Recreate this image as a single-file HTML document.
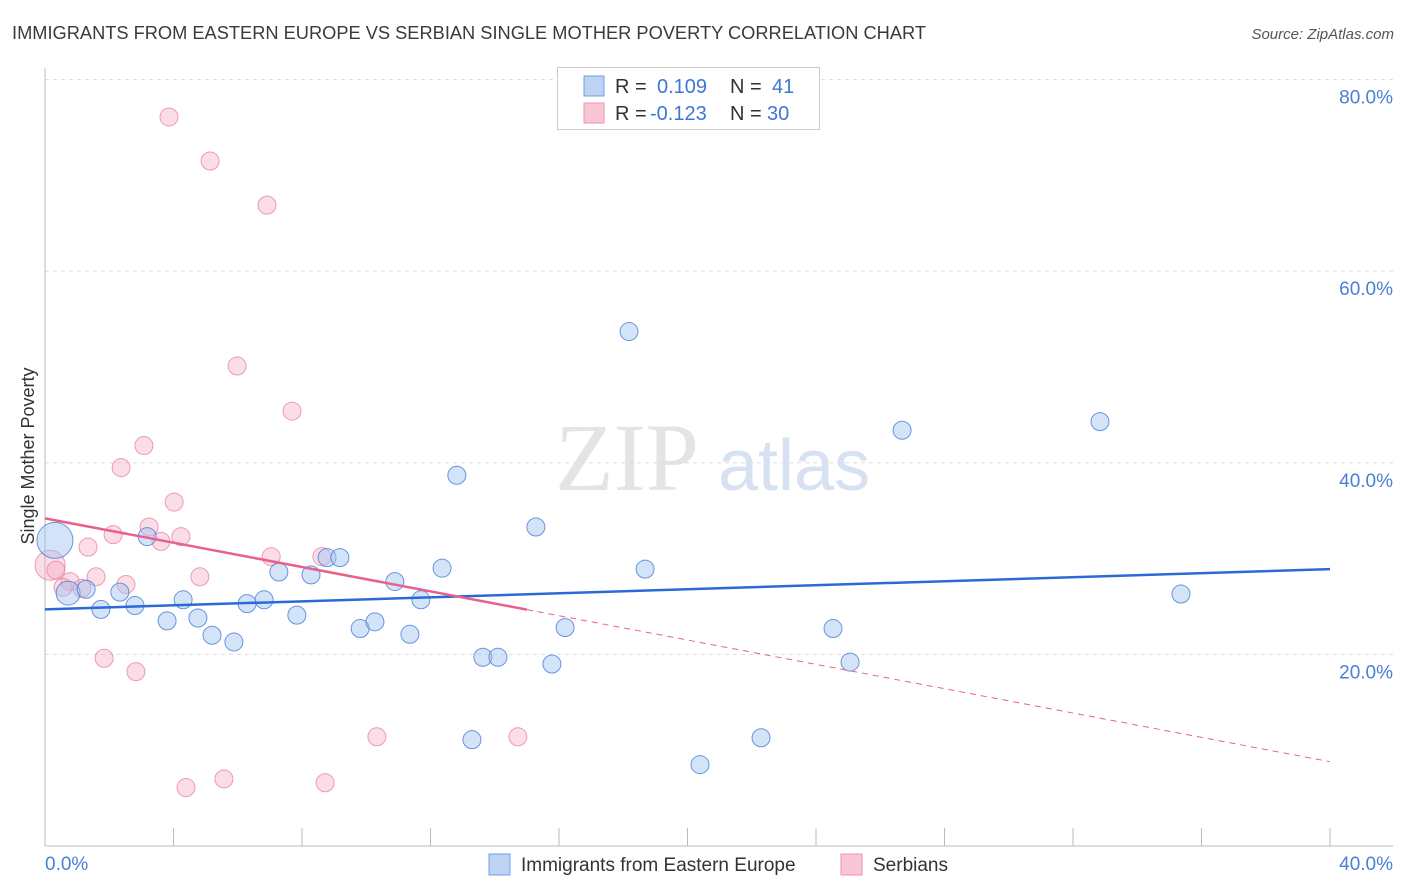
<!DOCTYPE html>
<html><head><meta charset="utf-8"><style>
body{margin:0;background:#fff;font-family:"Liberation Sans",sans-serif;}
#wrap{position:relative;width:1406px;height:892px;overflow:hidden;}
</style></head><body>
<div id="wrap">
<svg id="svg" width="1406" height="892" xmlns="http://www.w3.org/2000/svg" font-family="Liberation Sans, sans-serif">
<text x="12" y="39" font-size="18" fill="#3a3a3a" textLength="914" lengthAdjust="spacingAndGlyphs">IMMIGRANTS FROM EASTERN EUROPE VS SERBIAN SINGLE MOTHER POVERTY CORRELATION CHART</text>
<text x="1394" y="39" font-size="15" fill="#555" font-style="italic" text-anchor="end">Source: ZipAtlas.com</text>
<text x="34" y="456" font-size="18" fill="#333" text-anchor="middle" transform="rotate(-90 34 456)">Single Mother Poverty</text>
<text x="555" y="490" font-size="96" fill="#e4e4e4" font-family="Liberation Serif, serif">ZIP</text>
<text x="718" y="490" font-size="72" fill="#d6e2f2">atlas</text>
<g id="grid"></g><g id="marks"></g>
<g>
<rect x="557.5" y="67.5" width="262" height="62" fill="#fff" stroke="#ccc"/>
<rect x="584" y="76" width="20" height="20" fill="#bcd3f3" stroke="#6f9fe0"/>
<rect x="584" y="103" width="20" height="20" fill="#f8c6d5" stroke="#ee93b0"/>
<text x="615" y="93" font-size="20" fill="#333">R = <tspan x="657" fill="#3d76d6">0.109</tspan><tspan x="730">N = </tspan><tspan x="772" fill="#3d76d6">41</tspan></text>
<text x="615" y="120" font-size="20" fill="#333">R = <tspan x="650" fill="#3d76d6">-0.123</tspan><tspan x="730">N = </tspan><tspan x="767" fill="#3d76d6">30</tspan></text>
</g>
<g>
<rect x="489" y="854" width="21" height="21" fill="#bcd3f3" stroke="#6f9fe0"/>
<text x="521" y="871" font-size="19" fill="#333">Immigrants from Eastern Europe</text>
<rect x="841" y="854" width="21" height="21" fill="#f8c6d5" stroke="#ee93b0"/>
<text x="873" y="871" font-size="19" fill="#333">Serbians</text>
</g>
</svg>
</div>
<script>
const yTicks=[20,40,60,80];
const xTickLabels=["0.0%","40.0%"];
const blueX=[0.31,0.72,1.28,1.74,2.33,2.80,3.18,3.80,4.30,4.76,5.20,5.88,6.29,6.82,7.28,7.84,8.28,8.78,9.18,9.81,10.27,10.89,11.36,11.70,12.36,12.82,13.29,13.63,14.10,15.28,15.78,16.19,18.18,18.68,20.39,22.29,24.53,25.06,26.68,32.84,35.36];
const blueY=[31.9,26.4,26.8,24.7,26.5,25.1,32.3,23.5,25.7,23.8,22.0,21.3,25.3,25.7,28.6,24.1,28.3,30.1,30.1,22.7,23.4,27.6,22.1,25.7,29.0,38.7,11.1,19.7,19.7,33.3,19.0,22.8,53.7,28.9,8.5,11.3,22.7,19.2,43.4,44.3,26.3];
const pinkX=[0.16,0.34,0.78,1.15,1.34,1.59,1.84,2.12,2.37,2.52,2.83,3.08,3.24,3.61,4.02,4.23,4.39,4.82,3.86,5.14,5.57,5.98,6.91,7.04,7.69,8.62,8.72,10.33,14.72,0.56];
const pinkY=[29.3,28.8,27.6,26.9,31.2,28.1,19.6,32.5,39.5,27.3,18.2,41.8,33.3,31.8,35.9,32.3,6.1,28.1,76.1,71.5,7.0,50.1,66.9,30.2,45.4,30.2,6.6,11.4,11.4,27.0];
const blueTrend=[24.7,28.9];
const pinkTrend=[34.2,8.8];
const pinkSolidEnd=15;
const X=v=>45+v/40*1285, Y=v=>846-v/20*191.6;
const NS="http://www.w3.org/2000/svg";
function mk(p,t,a){const e=document.createElementNS(NS,t);for(const k in a)e.setAttribute(k,a[k]);p.appendChild(e);return e;}
const grid=document.getElementById('grid'),marks=document.getElementById('marks'),svg=document.getElementById('svg');
yTicks.forEach(t=>{
 const l=mk(grid,'line',{x1:45,x2:1393,y1:Y(t),y2:Y(t),stroke:'#ddd','stroke-dasharray':'4,4'});
 
 
 const tx=mk(grid,'text',{x:1393,y:Y(t)+24,'font-size':19,fill:'#4a7fd4','text-anchor':'end'});tx.textContent=t.toFixed(1)+'%';
 
 
});
const ax=mk(grid,'line',{x1:45,x2:1393,y1:846,y2:846,stroke:'#bbb'});


const ay=mk(grid,'line',{x1:45,x2:45,y1:68,y2:846,stroke:'#bbb'});


for(let k=0;k<=10;k++){const t=mk(grid,'line',{x1:X(k*4),x2:X(k*4),y1:828,y2:846,stroke:'#bbb'});
 
 }
[[0,'start',45],[40,'end',1393]].forEach((d,i)=>{const t=mk(grid,'text',{x:d[2],y:870,'font-size':19,fill:'#4a7fd4','text-anchor':d[1]});t.textContent=xTickLabels[i];
 
 });
pinkX.forEach((x,i)=>{const c=mk(marks,'circle',{cx:X(x),cy:Y(pinkY[i]),r:i===0?15:9,fill:'rgba(245,170,195,0.4)',stroke:'rgba(235,130,165,0.8)','stroke-width':1});
 
 });
blueX.forEach((x,i)=>{const c=mk(marks,'circle',{cx:X(x),cy:Y(blueY[i]),r:i===0?18:(i===1?12:9),fill:'rgba(160,195,240,0.45)',stroke:'rgba(70,125,215,0.8)','stroke-width':1});
 
 });
const bl=mk(marks,'line',{x1:X(0),x2:X(40),y1:Y(blueTrend[0]),y2:Y(blueTrend[1]),stroke:'#2a6ad6','stroke-width':2.5});


const pv=x=>pinkTrend[0]+(pinkTrend[1]-pinkTrend[0])*x/40;
const pl=mk(marks,'line',{x1:X(0),x2:X(pinkSolidEnd),y1:Y(pv(0)),y2:Y(pv(pinkSolidEnd)),stroke:'#e8608c','stroke-width':2.5});


const pd=mk(marks,'line',{x1:X(pinkSolidEnd),x2:X(40),y1:Y(pv(pinkSolidEnd)),y2:Y(pv(40)),stroke:'#e8608c','stroke-width':1,'stroke-dasharray':'6,5'});


</script>
</body></html>
